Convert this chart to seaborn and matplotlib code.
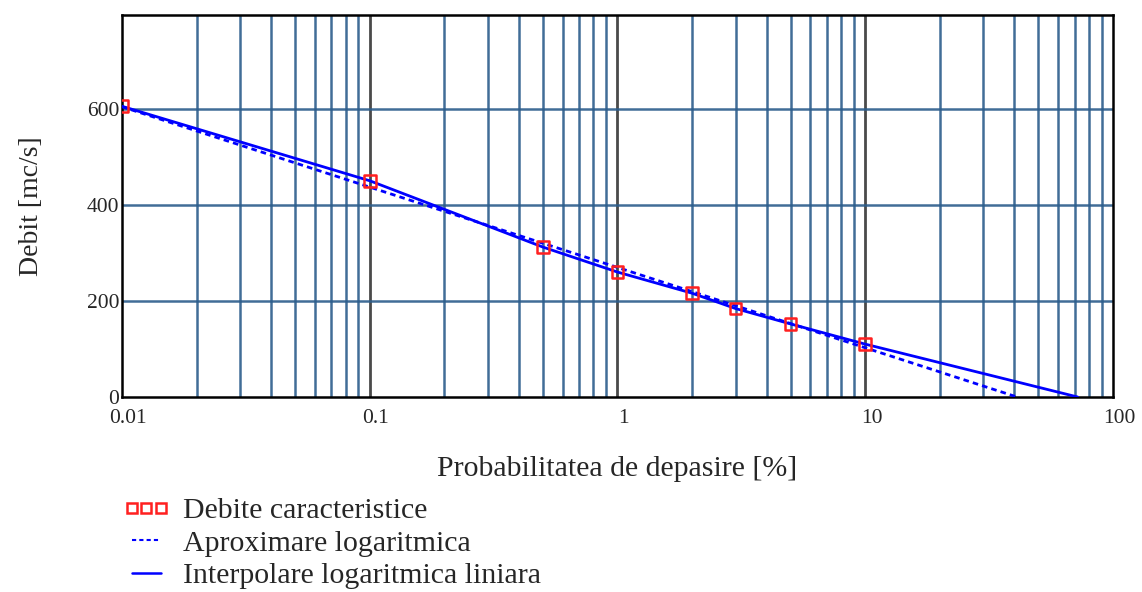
import numpy as np
import pandas as pd
import matplotlib
matplotlib.use("Agg")
import matplotlib.pyplot as plt
from matplotlib.lines import Line2D
from matplotlib.transforms import ScaledTranslation
from matplotlib.ticker import FixedLocator, NullFormatter, NullLocator
import seaborn as sns

# Characteristic discharges vs. exceedance probability
prob = [0.01, 0.1, 0.5, 1, 2, 3, 5, 10]
debit = [605, 450, 312, 260, 216, 184, 152, 110]

# Logarithmic approximation (straight line on the log axis)
fit_prob = [0.01, 41]
fit_debit = [604, 0]

# Log-linear interpolation, extended past the last point down to zero
interp_prob = [0.01, 0.1, 0.5, 1, 2, 3, 5, 10, 72]
interp_debit = [605, 450, 312, 260, 216, 184, 152, 110, 0]

x_ticks = [0.01, 0.1, 1, 10, 100]
x_tick_labels = ["0.01", "0.1", "1", "10", "100"]
y_ticks = [0, 200, 400, 600]

sns.set_style("white")
plt.rcParams["font.family"] = ["Liberation Serif", "DejaVu Serif"]

fig = plt.figure(figsize=(11.42, 5.92), dpi=100)
ax = fig.add_axes([0.1068, 0.3294, 0.9746 - 0.1068, 0.9747 - 0.3294])
ax.set_xscale("log")
ax.set_xlim(0.01, 100)
ax.set_ylim(0, 795)

grid_blue = "#2c5d8c"
# vertical grid: every 1..9 multiple of each decade
for dec in [0.01, 0.1, 1, 10]:
    for m in range(1, 10):
        v = dec * m
        if m == 1:
            if v > 0.01:
                ax.axvline(v, color="#4a4a4a", lw=2.0, zorder=1)
        else:
            ax.axvline(v, color=grid_blue, lw=1.8, alpha=0.9, zorder=1)
for yv in [200, 400, 600]:
    ax.axhline(yv, color=grid_blue, lw=1.8, alpha=0.9, zorder=1)

df_pts = pd.DataFrame({"p": prob, "q": debit})
df_fit = pd.DataFrame({"p": fit_prob, "q": fit_debit})
df_int = pd.DataFrame({"p": interp_prob, "q": interp_debit})

sns.lineplot(data=df_int, x="p", y="q", ax=ax, color="#0000ff", lw=2.0,
             zorder=3, sort=False)
sns.lineplot(data=df_fit, x="p", y="q", ax=ax, color="#0000ff", lw=2.0,
             linestyle=(0, (2, 1.5)), zorder=3, sort=False)
sns.scatterplot(data=df_pts, x="p", y="q", ax=ax, marker="s", s=70,
                facecolor="none", edgecolor="#ff2020", linewidth=1.8, zorder=4)

for sp in ax.spines.values():
    sp.set_color("black")
    sp.set_linewidth(1.8)

ax.xaxis.set_major_locator(FixedLocator(x_ticks))
ax.xaxis.set_minor_locator(NullLocator())
ax.xaxis.set_minor_formatter(NullFormatter())
ax.set_xticklabels(x_tick_labels)
ax.set_yticks(y_ticks)
ax.set_yticklabels([str(v) for v in y_ticks])
ax.tick_params(axis="both", labelsize=15.5, length=0)
ax.tick_params(axis="x", pad=9)
ax.tick_params(axis="y", pad=2)

shift = ScaledTranslation(4.5 / 72, 0, fig.dpi_scale_trans)
for lab in ax.get_xticklabels():
    lab.set_transform(lab.get_transform() + shift)

ax.set_xlabel("Probabilitatea de depasire [%]", fontsize=21.5, labelpad=20)
ax.set_ylabel("Debit [mc/s]", fontsize=20, labelpad=31)

handles = [
    Line2D([], [], marker="s", linestyle="none", markerfacecolor="none",
           markeredgecolor="#ff2020", markeredgewidth=1.8, markersize=6.5),
    Line2D([], [], color="#0000ff", lw=1.5, linestyle=(0, (2, 1.5))),
    Line2D([], [], color="#0000ff", lw=1.8),
]
labels = ["Debite caracteristice", "Aproximare logaritmica",
          "Interpolare logaritmica liniara"]
fig.legend(handles, labels, loc="upper left", bbox_to_anchor=(0.108, 0.160),
           frameon=False, fontsize=21.5, numpoints=3, handlelength=1.55,
           handletextpad=0.45, labelspacing=0.19, borderpad=0, borderaxespad=0)

fig.savefig("out.png", dpi=100)
